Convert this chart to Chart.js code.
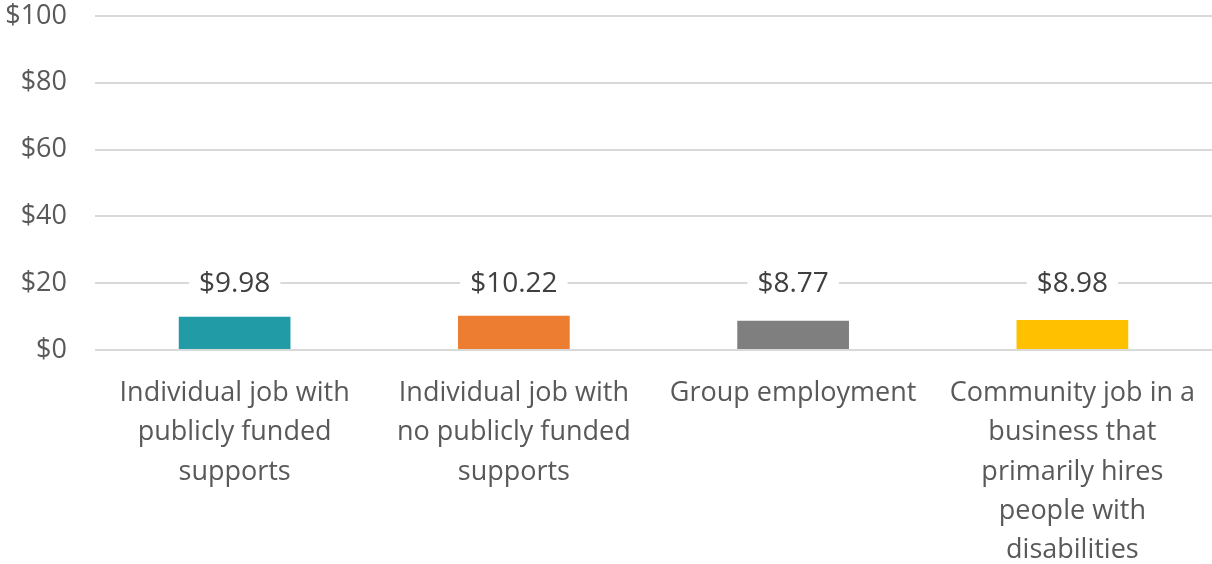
<!DOCTYPE html>
<html>
<head>
<meta charset="utf-8">
<script src="https://cdn.jsdelivr.net/npm/chart.js@4.4.0/dist/chart.umd.min.js"></script>
<style>
  html, body { margin: 0; padding: 0; background: #fff; }
  #wrap { width: 1212px; height: 564px; }
</style>
</head>
<body>
<div id="wrap"><canvas id="wageChart"></canvas></div>
<script>
const categories = [
    ['Individual job with', 'publicly funded', 'supports'],
    ['Individual job with', 'no publicly funded', 'supports'],
    ['Group employment'],
    ['Community job in a', 'business that', 'primarily hires', 'people with', 'disabilities']
];
const wages = [9.98, 10.22, 8.77, 8.98];
const barColors = ['#219CA6', '#ED7D31', '#7F7F7F', '#FFC000'];
const yTicks = [0, 20, 40, 60, 80, 100];

Chart.defaults.font.family = '"Open Sans", sans-serif';
Chart.defaults.font.size = 27;
Chart.defaults.color = '#595959';

// value labels sit on the $20 gridline with a white box behind them
const valueLabels = {
    id: 'valueLabels',
    afterDatasetsDraw(chart) {
        const ctx = chart.ctx;
        const meta = chart.getDatasetMeta(0);
        const y = chart.scales.y.getPixelForValue(20);
        ctx.save();
        ctx.font = '28px "Open Sans", sans-serif';
        ctx.textAlign = 'center';
        ctx.textBaseline = 'middle';
        meta.data.forEach((bar, i) => {
            const text = '$' + wages[i].toFixed(2);
            const w = ctx.measureText(text).width + 20;
            ctx.fillStyle = '#fff';
            ctx.fillRect(bar.x - w / 2, y - 16, w, 32);
            ctx.fillStyle = '#404040';
            ctx.fillText(text, bar.x, y + 1);
        });
        ctx.restore();
    }
};

new Chart(document.getElementById('wageChart'), {
    type: 'bar',
    data: {
        labels: categories,
        datasets: [{
            data: wages,
            backgroundColor: barColors,
            barPercentage: 0.4,
            categoryPercentage: 1
        }]
    },
    options: {
        responsive: true,
        maintainAspectRatio: false,
        animation: false,
        layout: { padding: { top: 16, right: 0, left: 0, bottom: 0 } },
        plugins: { legend: { display: false }, tooltip: { enabled: false } },
        scales: {
            x: {
                grid: { display: false, drawTicks: false },
                border: { display: false },
                ticks: { padding: 24, maxRotation: 0, autoSkip: false, font: { size: 27, lineHeight: 1.45 } },
                afterFit(scale) { scale.height = 214; scale.paddingLeft = 0; scale.paddingRight = 0; }
            },
            y: {
                min: 0,
                max: 100,
                afterBuildTicks(scale) { scale.ticks = yTicks.map(v => ({ value: v })); },
                grid: { color: '#D9D9D9', lineWidth: 2, drawTicks: false },
                border: { display: false },
                ticks: { padding: 28, callback: v => '$' + v },
                afterFit(scale) { scale.width = 95; scale.paddingTop = 0; scale.paddingBottom = 0; }
            }
        }
    },
    plugins: [valueLabels]
});
</script>
</body>
</html>
